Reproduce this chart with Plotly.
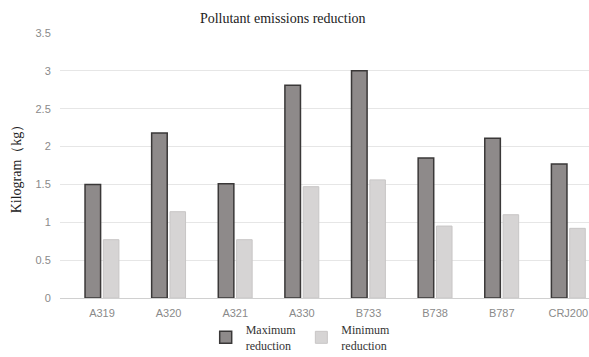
import plotly.graph_objects as go

categories = ["A319", "A320", "A321", "A330", "B733", "B738", "B787", "CRJ200"]
max_reduction = [1.50, 2.18, 1.51, 2.81, 3.00, 1.85, 2.11, 1.77]
min_reduction = [0.77, 1.14, 0.77, 1.47, 1.56, 0.95, 1.10, 0.92]
y_ticks = [0, 0.5, 1, 1.5, 2, 2.5, 3, 3.5]
y_tick_labels = ["0", "0.5", "1", "1.5", "2", "2.5", "3", "3.5"]

serif = "Liberation Serif, Times New Roman, serif"
sans = "Liberation Sans, Arial, sans-serif"

fig = go.Figure()
fig.add_trace(go.Bar(
    x=categories, y=max_reduction, name="Maximum<br>reduction",
    marker=dict(color="#8e8a8a", line=dict(color="#3a3838", width=1.5)),
))
fig.add_trace(go.Bar(
    x=categories, y=min_reduction, name="Minimum<br>reduction",
    marker=dict(color="#d6d4d4", line=dict(color="#c8c6c6", width=1)),
))

fig.update_layout(
    width=589, height=357,
    margin=dict(l=60, r=0, t=33, b=59, autoexpand=False),
    paper_bgcolor="white", plot_bgcolor="white",
    barmode="group", bargap=0.45, bargroupgap=0.15,
    title=dict(text="Pollutant emissions reduction", x=0.48, xanchor="center",
               y=0.95, yanchor="middle",
               font=dict(family=serif, size=14, color="#222")),
    xaxis=dict(range=[-0.63, 7.31], showgrid=False, showline=False,
               ticks="outside", ticklen=5, tickcolor="rgba(0,0,0,0)",
               automargin=False,
               tickfont=dict(family=sans, size=11, color="#8a8a8a")),
    yaxis=dict(range=[0, 3.5], tickvals=y_ticks, ticktext=y_tick_labels,
               gridcolor="#e6e6e6", gridwidth=1, zeroline=True,
               zerolinecolor="#d0d0d0", zerolinewidth=1,
               ticks="outside", ticklen=6, tickcolor="rgba(0,0,0,0)",
               automargin=False,
               tickfont=dict(family=sans, size=11, color="#8a8a8a"),
               title=dict(text="Kilogram（kg）", standoff=10,
                          font=dict(family=serif, size=14, color="#222"))),
    legend=dict(orientation="h", x=0.455, xanchor="center", y=-0.065, yanchor="top",
                font=dict(family=serif, size=12, color="#333"),
                itemwidth=30, tracegroupgap=0, bgcolor="rgba(0,0,0,0)"),
    showlegend=True,
)

fig.write_html("out.html", config={"displayModeBar": False},
               post_script="document.body.style.margin='0';document.body.style.padding='0';")
